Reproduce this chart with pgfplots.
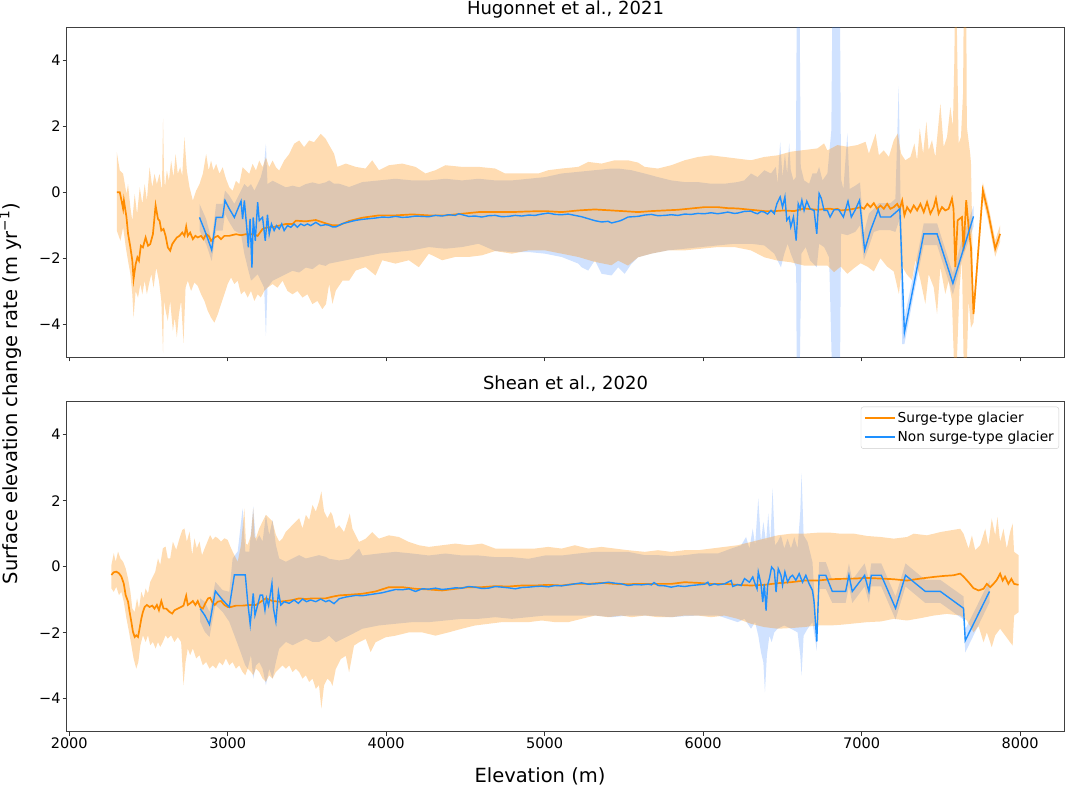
\documentclass[border=0pt]{standalone}
\usepackage{fontspec}
\setmainfont{DejaVu Sans}
\usepackage{pgfplots}
\pgfplotsset{compat=1.18}
\usepgfplotslibrary{fillbetween}
\definecolor{dorange}{RGB}{255,140,0}
\definecolor{dblue}{RGB}{30,144,255}
\definecolor{bandblue}{RGB}{40,122,255}
\pgfplotsset{
  panel/.style={
    width=997.6pt, height=330pt, scale only axis,
    xmin=1984, xmax=8279, ymin=-5, ymax=5,
    xtick={2000,3000,4000,5000,6000,7000,8000}, ytick={-4,-2,0,2,4},
    yticklabels={−4,−2,0,2,4},
    xtick pos=bottom, ytick pos=left,
    tick align=outside, major tick length=4pt,
    tick style={black!80, line width=0.9pt},
    axis line style={black!75, line width=0.9pt},
    ticklabel style={font=\fontsize{14.5}{17}\selectfont},
    yticklabel style={inner sep=2pt},
    xticklabel style={inner sep=2pt},
  },
  oline/.style={dorange, line width=1.7pt},
  bline/.style={dblue, line width=1.4pt},
  ofill/.style={fill=dorange, fill opacity=0.3, draw=none, forget plot},
  bfill/.style={fill=bandblue, fill opacity=0.22, draw=none, forget plot},
}
\begin{document}
\begin{tikzpicture}
% ================= TOP PANEL =================
\begin{axis}[panel, at={(66.7pt,429.7pt)}, anchor=south west, xticklabel=\empty]
\addplot[draw=none, name path=otu, forget plot] coordinates {
(2300,1.22)(2319,0.66)(2340,0.56)(2361,-0.05)(2371,0.25)(2386,-0.46)(2398,-0.86)(2413,-0.05)(2428,-0.66)(2445,0.15)(2461,-0.35)(2476,0.25)(2490,-0.25)(2507,0.76)(2524,0.15)(2538,0.56)(2553,0.25)(2570,0.56)(2585,0.05)(2592,2.23)(2598,0.6)(2604,0.15)(2616,0.66)(2629,0.35)(2643,0.96)(2658,0.46)(2671,1.16)(2685,0.56)(2700,0.76)(2713,0.51)(2727,1.67)(2742,0.66)(2759,0.15)(2780,-0.25)(2801,0.05)(2822,0.25)(2843,0.56)(2864,1.16)(2880,0.66)(2895,0.96)(2910,0.66)(2927,0.86)(2948,0.56)(2968,0.76)(2989,0.41)(3010,0.15)(3031,0.05)(3052,0.35)(3073,0.25)(3094,0.76)(3115,0.66)(3136,0.56)(3157,0.86)(3178,0.66)(3199,0.96)(3220,0.76)(3241,1.06)(3262,0.76)(3283,0.96)(3304,0.76)(3325,0.66)(3356,0.96)(3388,1.16)(3419,1.47)(3451,1.57)(3482,1.37)(3514,1.57)(3545,1.52)(3587,1.77)(3618,1.62)(3640,1.43)(3671,1.17)(3692,0.77)(3745,0.87)(3808,0.77)(3870,0.72)(3912,0.97)(3954,0.67)(4017,0.82)(4101,0.87)(4185,0.77)(4248,0.57)(4311,0.67)(4374,0.82)(4478,0.77)(4583,0.77)(4688,0.72)(4751,0.57)(4856,0.57)(4960,0.57)(5023,0.67)(5107,0.72)(5212,0.77)(5275,0.92)(5359,0.87)(5443,0.97)(5526,0.97)(5589,0.9)(5631,0.77)(5715,0.72)(5799,0.82)(5883,0.97)(5967,1.07)(6050,1.12)(6134,1.07)(6218,1.02)(6302,0.97)(6386,1.07)(6470,1.12)(6553,1.23)(6637,1.28)(6721,1.33)(6763,1.48)(6784,1.27)(6847,1.43)(6910,1.38)(6973,1.43)(7025,1.53)(7046,1.17)(7088,1.78)(7109,1.12)(7140,1.27)(7172,1.07)(7203,1.58)(7228,1.78)(7249,1.17)(7276,0.97)(7308,1.07)(7333,1.48)(7350,0.97)(7367,1.93)(7388,1.17)(7409,2.14)(7423,1.27)(7444,1.58)(7465,1.07)(7497,2.69)(7518,1.37)(7539,1.68)(7560,2.59)(7576,1.98)(7585,4.0)(7590,6)(7598,6)(7612,1.47)(7627,1.68)(7640,3)(7645,6)(7660,6)(7664,1.98)(7685,1.17)(7690,0.9)(7706,-3.4)(7765,0.3)(7800,-0.4)(7843,-1.45)(7874,-1.0)
};
\addplot[draw=none, name path=otl, forget plot] coordinates {
(2300,-1.16)(2323,-1.47)(2340,-1.06)(2357,-1.67)(2371,-2.08)(2386,-2.48)(2398,-3.09)(2406,-3.80)(2419,-2.99)(2434,-3.19)(2449,-2.78)(2461,-3.09)(2476,-2.68)(2490,-3.09)(2503,-2.78)(2518,-2.48)(2532,-2.89)(2549,-2.28)(2566,-2.68)(2581,-3.29)(2592,-4.86)(2598,-3.3)(2608,-3.59)(2622,-3.90)(2637,-3.29)(2654,-4.20)(2666,-3.80)(2679,-4.40)(2692,-3.70)(2706,-3.29)(2721,-4.56)(2734,-2.89)(2748,-2.68)(2769,-2.99)(2790,-2.73)(2811,-2.84)(2832,-3.09)(2853,-3.29)(2874,-3.59)(2895,-3.80)(2916,-3.95)(2937,-3.70)(2958,-3.39)(2979,-3.09)(3000,-2.78)(3021,-2.58)(3042,-2.78)(3063,-2.68)(3084,-3.09)(3105,-2.99)(3126,-3.19)(3147,-2.99)(3168,-3.29)(3189,-3.09)(3209,-3.19)(3230,-2.99)(3251,-2.89)(3283,-2.78)(3314,-2.89)(3346,-2.68)(3377,-2.99)(3409,-3.09)(3440,-2.99)(3472,-3.19)(3503,-3.09)(3534,-3.39)(3566,-3.29)(3597,-3.54)(3620,-3.39)(3640,-2.78)(3661,-3.38)(3682,-2.98)(3724,-2.68)(3766,-2.68)(3808,-2.37)(3870,-2.27)(3933,-2.52)(3975,-2.06)(4059,-2.16)(4143,-2.06)(4206,-2.27)(4269,-1.86)(4353,-2.06)(4436,-1.96)(4520,-1.96)(4604,-1.91)(4688,-1.78)(4793,-1.86)(4898,-1.76)(5002,-1.76)(5107,-1.86)(5212,-1.96)(5317,-2.11)(5422,-2.21)(5464,-2.07)(5526,-2.22)(5589,-1.97)(5673,-1.86)(5778,-1.76)(5883,-1.76)(5987,-1.71)(6092,-1.66)(6197,-1.66)(6302,-1.76)(6386,-1.97)(6470,-2.07)(6553,-2.12)(6637,-2.22)(6721,-2.22)(6784,-2.22)(6826,-2.42)(6868,-2.25)(6910,-2.47)(6952,-2.3)(6994,-2.15)(7036,-2.25)(7077,-2.4)(7119,-2.0)(7161,-2.25)(7203,-2.4)(7235,-3.08)(7256,-2.25)(7287,-2.5)(7318,-2.66)(7340,-2.05)(7371,-2.66)(7402,-3.38)(7423,-2.48)(7455,-2.88)(7476,-3.69)(7497,-2.27)(7528,-3.08)(7549,-2.68)(7570,-3.28)(7585,-5.5)(7598,-5.5)(7618,-2.88)(7633,-2.07)(7645,-5.5)(7662,-5.5)(7675,-3.28)(7690,-4.1)(7706,-3.95)(7765,-0.2)(7800,-0.9)(7843,-1.95)(7874,-1.5)
};
\addplot[draw=none, name path=btu, forget plot] coordinates {
(2822,-0.35)(2864,-0.81)(2899,-1.47)(2927,-0.35)(2968,-0.35)(2983,0.05)(3010,-0.1)(3042,-0.35)(3084,0.05)(3105,0.25)(3126,0.15)(3147,0.25)(3168,0.05)(3189,0.25)(3209,0.46)(3230,0.86)(3241,1.47)(3251,0.25)(3283,0.35)(3325,0.25)(3367,0.15)(3409,0.2)(3451,0.15)(3493,0.25)(3535,0.3)(3576,0.25)(3618,0.3)(3640,0.36)(3671,0.26)(3703,0.26)(3766,0.16)(3850,0.31)(3954,0.36)(4059,0.41)(4164,0.36)(4269,0.36)(4374,0.41)(4478,0.36)(4583,0.41)(4688,0.36)(4793,0.36)(4898,0.41)(5002,0.46)(5107,0.57)(5212,0.62)(5317,0.67)(5422,0.72)(5464,0.72)(5547,0.67)(5631,0.57)(5715,0.46)(5799,0.36)(5883,0.31)(5967,0.31)(6050,0.26)(6134,0.26)(6218,0.31)(6260,0.36)(6302,0.57)(6344,0.46)(6386,0.67)(6428,0.57)(6459,0.77)(6470,0.26)(6486,1.53)(6501,0.46)(6516,1.17)(6530,0.57)(6543,1.48)(6553,0.67)(6570,0.36)(6585,0.46)(6591,6)(6608,6)(6616,0.77)(6637,0.36)(6669,0.26)(6690,0.57)(6717,0.57)(6732,0.77)(6753,0.36)(6784,0.57)(6809,1.88)(6816,6)(6863,6)(6870,0.4)(6885,0.1)(6910,1.79)(6925,0.1)(6960,0.2)(6990,0.3)(7014,-1.25)(7046,-0.64)(7077,-0.5)(7109,-0.33)(7182,-0.33)(7213,-0.2)(7234,3.21)(7245,0.0)(7256,-1.5)(7266,-3.9)(7329,-2.45)(7392,-0.94)(7476,-0.94)(7576,-2.45)(7633,-1.45)(7706,-0.42)
};
\addplot[draw=none, name path=btl, forget plot] coordinates {
(2822,-1.16)(2864,-1.57)(2899,-2.08)(2927,-1.16)(2968,-1.16)(2983,-0.66)(3010,-0.91)(3042,-1.16)(3084,-1.27)(3105,-1.87)(3126,-2.28)(3147,-2.68)(3168,-2.58)(3189,-2.48)(3209,-2.68)(3230,-2.89)(3241,-4.35)(3251,-2.89)(3283,-2.68)(3325,-2.58)(3367,-2.48)(3409,-2.38)(3451,-2.43)(3493,-2.28)(3535,-2.33)(3576,-2.18)(3618,-2.23)(3640,-2.16)(3745,-2.06)(3850,-1.96)(3954,-1.86)(4059,-1.81)(4164,-1.76)(4269,-1.66)(4374,-1.71)(4478,-1.66)(4583,-1.56)(4688,-1.78)(4793,-1.81)(4898,-1.81)(5002,-1.86)(5107,-1.96)(5212,-2.16)(5233,-2.27)(5275,-2.37)(5317,-2.06)(5359,-2.47)(5422,-2.52)(5464,-2.27)(5505,-2.47)(5547,-2.17)(5589,-1.97)(5673,-1.86)(5778,-1.76)(5883,-1.71)(5987,-1.66)(6092,-1.61)(6197,-1.56)(6302,-1.56)(6386,-1.61)(6449,-1.86)(6470,-2.07)(6491,-2.27)(6512,-1.86)(6533,-1.56)(6553,-1.86)(6570,-2.07)(6587,-2.27)(6591,-6)(6608,-6)(6620,-1.86)(6647,-1.66)(6675,-2.07)(6717,-2.27)(6732,-1.56)(6763,-1.66)(6795,-1.97)(6816,-6)(6863,-6)(6870,-1.25)(6910,-1.3)(6960,-1.2)(6990,-1.0)(7014,-2.06)(7046,-1.65)(7077,-1.2)(7109,-1.15)(7182,-1.15)(7213,-1.2)(7241,-0.8)(7256,-4.6)(7270,-4.6)(7329,-3.1)(7392,-1.6)(7476,-1.6)(7576,-3.1)(7633,-2.05)(7706,-1.05)
};
\addplot[bfill] fill between[of=btu and btl];
\addplot[ofill] fill between[of=otu and otl];
\addplot[oline] coordinates {
(2300,0.0)(2319,0.0)(2330,-0.25)(2340,-0.5)(2345,-0.25)(2361,-0.75)(2371,-1.25)(2386,-1.67)(2398,-2.07)(2406,-2.63)(2419,-2.18)(2430,-1.97)(2440,-2.07)(2452,-1.62)(2465,-1.67)(2482,-1.37)(2497,-1.62)(2511,-1.57)(2528,-1.27)(2545,-0.4)(2560,-0.81)(2570,-0.86)(2581,-1.16)(2595,-1.11)(2608,-1.32)(2622,-1.67)(2637,-1.77)(2650,-1.57)(2664,-1.47)(2679,-1.37)(2696,-1.32)(2713,-1.22)(2727,-1.32)(2738,-1.04)(2748,-1.32)(2763,-1.22)(2780,-1.42)(2796,-1.32)(2811,-1.37)(2832,-1.32)(2847,-1.42)(2864,-1.27)(2880,-1.32)(2895,-1.47)(2916,-1.37)(2937,-1.32)(2958,-1.42)(2979,-1.32)(3010,-1.32)(3052,-1.27)(3084,-1.3)(3115,-1.27)(3157,-1.27)(3189,-1.32)(3220,-1.11)(3252,-1.06)(3283,-1.06)(3325,-1.01)(3367,-0.96)(3409,-0.96)(3430,-0.86)(3493,-0.88)(3556,-0.84)(3618,-0.94)(3660,-1.0)(3703,-1.0)(3766,-0.87)(3850,-0.77)(3954,-0.70)(4059,-0.70)(4164,-0.67)(4269,-0.70)(4374,-0.70)(4478,-0.65)(4583,-0.60)(4688,-0.60)(4793,-0.60)(4898,-0.58)(5002,-0.57)(5107,-0.60)(5212,-0.55)(5317,-0.52)(5422,-0.55)(5526,-0.58)(5589,-0.6)(5673,-0.57)(5757,-0.55)(5841,-0.53)(5925,-0.49)(6008,-0.45)(6092,-0.45)(6155,-0.48)(6218,-0.49)(6302,-0.53)(6386,-0.57)(6449,-0.57)(6512,-0.55)(6574,-0.57)(6637,-0.49)(6721,-0.53)(6784,-0.5)(6805,-0.5)(6826,-0.52)(6847,-0.5)(6868,-0.55)(6910,-0.53)(6952,-0.5)(6994,-0.45)(7015,-0.5)(7036,-0.35)(7056,-0.45)(7077,-0.33)(7098,-0.5)(7119,-0.4)(7140,-0.5)(7161,-0.35)(7182,-0.5)(7203,-0.45)(7224,-0.35)(7241,-0.5)(7256,-0.25)(7270,-0.7)(7287,-0.45)(7308,-0.6)(7329,-0.4)(7350,-0.55)(7371,-0.35)(7392,-0.6)(7413,-0.3)(7434,-0.65)(7455,-0.45)(7469,-0.19)(7486,-0.65)(7507,-0.45)(7528,-0.55)(7549,-0.5)(7570,-0.19)(7580,-0.5)(7591,-2.27)(7606,-0.85)(7633,-0.75)(7643,-1.77)(7660,-0.24)(7675,-1.05)(7690,-1.67)(7706,-3.69)(7765,0.06)(7800,-0.65)(7843,-1.71)(7874,-1.26)
};
\addplot[bline] coordinates {
(2822,-0.76)(2864,-1.27)(2899,-1.75)(2927,-0.76)(2968,-0.76)(2983,-0.25)(3010,-0.5)(3042,-0.76)(3084,-0.27)(3094,-0.81)(3105,-0.25)(3120,-1.06)(3130,-1.67)(3141,-0.81)(3153,-2.28)(3161,-0.76)(3174,-1.47)(3189,-0.3)(3199,-0.86)(3220,-0.76)(3237,-1.47)(3251,-0.68)(3262,-1.27)(3276,-0.96)(3293,-1.16)(3308,-1.01)(3325,-1.11)(3341,-0.96)(3356,-1.16)(3377,-1.01)(3398,-1.06)(3419,-0.96)(3440,-1.06)(3461,-0.96)(3482,-1.01)(3503,-0.96)(3524,-1.01)(3556,-0.91)(3587,-1.01)(3618,-0.98)(3640,-1.0)(3661,-1.05)(3682,-1.05)(3724,-0.95)(3766,-0.9)(3808,-0.85)(3850,-0.82)(3891,-0.80)(3933,-0.78)(3975,-0.75)(4017,-0.76)(4059,-0.73)(4101,-0.76)(4143,-0.75)(4185,-0.72)(4227,-0.73)(4269,-0.74)(4311,-0.70)(4353,-0.72)(4394,-0.68)(4436,-0.7)(4457,-0.65)(4520,-0.73)(4562,-0.72)(4604,-0.75)(4646,-0.71)(4688,-0.70)(4730,-0.74)(4772,-0.73)(4814,-0.70)(4856,-0.72)(4898,-0.69)(4939,-0.70)(4981,-0.66)(5023,-0.63)(5065,-0.67)(5107,-0.68)(5149,-0.66)(5191,-0.70)(5233,-0.74)(5275,-0.80)(5317,-0.86)(5359,-0.90)(5401,-0.88)(5422,-0.93)(5464,-0.88)(5484,-0.85)(5526,-0.75)(5589,-0.73)(5631,-0.69)(5673,-0.67)(5715,-0.71)(5757,-0.7)(5799,-0.68)(5841,-0.7)(5883,-0.66)(5925,-0.67)(5967,-0.64)(6008,-0.65)(6050,-0.62)(6092,-0.65)(6134,-0.62)(6155,-0.6)(6197,-0.64)(6218,-0.63)(6260,-0.58)(6302,-0.57)(6323,-0.62)(6344,-0.65)(6365,-0.58)(6386,-0.6)(6407,-0.66)(6428,-0.55)(6449,-0.65)(6465,-0.35)(6486,-0.14)(6501,-0.45)(6516,-0.14)(6528,-0.85)(6543,-0.75)(6553,-1.05)(6570,-0.75)(6587,-1.46)(6600,-0.35)(6612,-0.5)(6623,-0.24)(6637,-0.55)(6654,-0.27)(6675,-0.5)(6700,-0.55)(6717,-1.26)(6732,-0.04)(6746,-0.19)(6763,-0.55)(6784,-0.55)(6801,-0.75)(6826,-0.53)(6856,-0.53)(6885,-0.75)(6914,-0.27)(6935,-0.75)(6960,-0.53)(6987,-0.24)(7019,-1.75)(7056,-1.16)(7105,-0.53)(7119,-0.75)(7182,-0.75)(7241,-0.5)(7270,-4.25)(7392,-1.26)(7476,-1.26)(7576,-2.76)(7706,-0.73)
};
\end{axis}
% ================= BOTTOM PANEL =================
\begin{axis}[panel, at={(66.7pt,55.3pt)}, anchor=south west,
  xticklabels={2000,3000,4000,5000,6000,7000,8000},
  legend style={at={(0.9947,0.985)}, anchor=north east, draw=black!20,
    rounded corners=2.5pt, fill=white, fill opacity=0.8, text opacity=1,
    font=\fontsize{13.7}{16}\selectfont, inner xsep=3pt, inner ysep=3.5pt,
    row sep=3pt},
  legend cell align=left,
  legend image code/.code={\draw[#1, line width=1.6pt] (0pt,0pt) -- (30pt,0pt);},
]
\addplot[draw=none, name path=obu, forget plot] coordinates {
(2266,0.05)(2281,0.41)(2293,0.15)(2308,0.46)(2323,0.25)(2340,0.15)(2356,-0.05)(2371,-0.35)(2386,-0.76)(2398,-1.27)(2413,-1.37)(2428,-0.96)(2440,-1.27)(2455,-0.76)(2469,-0.96)(2482,-0.66)(2497,-0.81)(2511,-0.46)(2528,-0.3)(2543,-0.15)(2560,0.25)(2574,0.05)(2591,0.56)(2608,0.61)(2622,0.25)(2637,0.25)(2654,0.76)(2675,0.51)(2696,0.86)(2713,1.11)(2727,1.16)(2742,0.76)(2759,1.06)(2776,0.35)(2790,0.86)(2805,0.56)(2822,0.76)(2838,0.35)(2855,0.56)(2872,0.76)(2889,0.96)(2905,0.81)(2922,0.91)(2939,0.86)(2958,0.76)(2979,0.86)(3000,0.81)(3021,0.56)(3042,0.35)(3063,0.15)(3084,0.66)(3105,1.77)(3115,0.7)(3126,0.66)(3147,0.96)(3161,1.77)(3170,0.9)(3178,0.86)(3199,1.16)(3220,1.37)(3241,1.57)(3262,1.47)(3283,1.37)(3304,0.96)(3325,0.76)(3346,0.86)(3367,1.06)(3388,1.16)(3409,1.27)(3430,1.37)(3451,1.47)(3472,1.16)(3493,1.57)(3514,1.42)(3535,1.87)(3556,1.67)(3576,1.97)(3591,2.28)(3608,1.67)(3629,1.47)(3650,1.66)(3661,1.56)(3682,1.15)(3703,1.26)(3734,1.05)(3755,1.36)(3770,1.61)(3787,1.15)(3808,0.95)(3829,0.75)(3871,0.85)(3912,1.05)(3954,0.85)(4017,0.95)(4080,0.9)(4143,0.75)(4206,0.65)(4269,0.6)(4353,0.65)(4436,0.7)(4520,0.65)(4604,0.7)(4688,0.55)(4772,0.55)(4856,0.55)(4939,0.55)(5023,0.6)(5107,0.55)(5191,0.65)(5275,0.55)(5359,0.6)(5443,0.55)(5526,0.5)(5632,0.45)(5715,0.5)(5799,0.45)(5883,0.5)(5967,0.5)(6051,0.55)(6135,0.6)(6218,0.65)(6302,0.75)(6386,0.85)(6470,0.95)(6554,1.0)(6638,1.0)(6722,1.03)(6805,1.03)(6868,1.0)(6952,1.0)(7036,0.93)(7120,0.9)(7203,0.85)(7287,0.9)(7329,1.0)(7413,0.95)(7497,1.05)(7560,1.1)(7622,1.15)(7643,1.0)(7675,0.55)(7696,0.95)(7717,0.5)(7748,0.65)(7780,1.15)(7800,0.65)(7821,1.46)(7843,0.95)(7857,1.51)(7874,0.75)(7895,1.15)(7916,0.55)(7937,1.05)(7953,1.31)(7962,0.45)(7990,0.35)
};
\addplot[draw=none, name path=obl, forget plot] coordinates {
(2266,-0.66)(2281,-0.76)(2297,-0.61)(2314,-0.86)(2329,-0.76)(2344,-1.06)(2361,-1.57)(2377,-1.97)(2392,-2.38)(2406,-2.78)(2423,-3.09)(2436,-2.89)(2449,-2.38)(2465,-2.08)(2482,-2.28)(2497,-2.08)(2511,-2.38)(2528,-2.28)(2545,-2.48)(2560,-2.28)(2574,-2.43)(2591,-2.28)(2608,-2.08)(2622,-2.18)(2643,-2.08)(2664,-2.28)(2685,-2.13)(2706,-2.28)(2721,-3.59)(2734,-2.89)(2748,-2.48)(2763,-2.68)(2780,-2.48)(2801,-2.78)(2822,-2.68)(2843,-2.99)(2864,-2.89)(2885,-3.09)(2905,-2.99)(2926,-3.09)(2947,-2.89)(2968,-2.99)(2989,-2.78)(3010,-2.99)(3031,-2.89)(3052,-3.09)(3073,-2.99)(3094,-3.19)(3111,-3.29)(3126,-3.09)(3147,-3.19)(3161,-3.29)(3178,-3.09)(3199,-3.19)(3220,-3.39)(3241,-3.49)(3262,-3.29)(3283,-3.39)(3304,-3.19)(3325,-3.09)(3346,-2.99)(3367,-3.09)(3388,-2.99)(3409,-3.19)(3430,-3.09)(3451,-3.19)(3472,-3.39)(3493,-3.29)(3514,-3.49)(3535,-3.39)(3556,-3.70)(3576,-3.59)(3591,-4.30)(3608,-3.59)(3629,-3.39)(3650,-3.49)(3661,-3.61)(3682,-3.1)(3713,-2.8)(3745,-2.7)(3766,-3.2)(3797,-2.39)(3829,-2.29)(3871,-2.19)(3902,-2.59)(3933,-2.29)(3996,-2.14)(4059,-2.09)(4143,-1.99)(4227,-1.99)(4311,-2.09)(4394,-1.99)(4478,-1.88)(4562,-1.78)(4646,-1.73)(4730,-1.68)(4814,-1.68)(4898,-1.68)(4981,-1.63)(5065,-1.68)(5149,-1.68)(5233,-1.58)(5317,-1.48)(5401,-1.53)(5484,-1.48)(5548,-1.53)(5632,-1.48)(5715,-1.53)(5799,-1.53)(5883,-1.48)(5967,-1.48)(6051,-1.53)(6135,-1.48)(6218,-1.58)(6302,-1.73)(6386,-1.83)(6470,-1.88)(6554,-1.86)(6638,-1.83)(6722,-1.78)(6805,-1.78)(6868,-1.76)(6952,-1.72)(7036,-1.68)(7120,-1.66)(7203,-1.58)(7287,-1.63)(7371,-1.56)(7455,-1.48)(7538,-1.43)(7622,-1.48)(7664,-1.63)(7706,-1.99)(7738,-1.8)(7769,-2.29)(7790,-1.99)(7821,-2.44)(7843,-2.08)(7874,-1.88)(7905,-2.08)(7937,-2.29)(7953,-2.39)(7962,-1.48)(7990,-1.38)
};
\addplot[draw=none, name path=bbu, forget plot] coordinates {
(2826,-0.96)(2855,-1.06)(2885,-1.37)(2922,-0.46)(2968,-0.71)(3010,-0.76)(3031,0.25)(3063,0.46)(3094,1.77)(3111,0.46)(3136,0.46)(3161,1.82)(3178,0.76)(3199,0.96)(3220,0.76)(3241,1.57)(3262,0.96)(3283,1.42)(3304,0.66)(3325,0.25)(3367,0.15)(3409,0.25)(3451,0.35)(3493,0.25)(3535,0.3)(3576,0.35)(3618,0.3)(3640,0.24)(3703,0.19)(3766,0.24)(3829,0.55)(3850,0.34)(3954,0.4)(4059,0.45)(4164,0.4)(4269,0.34)(4374,0.4)(4478,0.34)(4583,0.34)(4688,0.29)(4793,0.29)(4898,0.24)(5002,0.34)(5107,0.34)(5212,0.4)(5317,0.45)(5422,0.45)(5526,0.45)(5632,0.35)(5715,0.35)(5799,0.32)(5883,0.35)(5967,0.4)(6093,0.4)(6177,0.55)(6240,0.65)(6271,0.9)(6292,0.55)(6313,1.15)(6328,0.65)(6348,2.07)(6365,0.75)(6380,1.36)(6397,0.75)(6411,1.61)(6424,0.75)(6438,2.37)(6453,0.65)(6470,0.75)(6491,0.95)(6512,0.55)(6533,0.85)(6554,0.55)(6575,0.9)(6596,0.55)(6613,1.66)(6621,2.83)(6634,0.95)(6659,0.75)(6690,0.14)(6717,-1.99)(6732,0.14)(6774,0.14)(6815,-0.4)(6899,-0.4)(6920,0.1)(6941,-0.4)(7019,0.1)(7046,-0.4)(7061,0.1)(7124,0.1)(7214,-0.9)(7277,0.1)(7402,-0.4)(7497,-0.4)(7643,-0.9)(7654,-1.9)(7807,-0.42)
};
\addplot[draw=none, name path=bbl, forget plot] coordinates {
(2826,-1.67)(2855,-1.97)(2885,-2.13)(2922,-1.16)(2968,-1.37)(3010,-1.67)(3042,-2.08)(3073,-2.48)(3111,-2.99)(3126,-3.09)(3147,-2.68)(3161,-3.39)(3178,-2.99)(3199,-2.89)(3220,-3.09)(3241,-3.59)(3262,-3.09)(3283,-3.39)(3304,-2.89)(3325,-2.48)(3367,-2.28)(3409,-2.38)(3451,-2.28)(3493,-2.18)(3535,-2.28)(3576,-2.28)(3618,-2.18)(3640,-2.09)(3682,-2.29)(3724,-2.19)(3766,-2.09)(3850,-1.88)(3954,-1.78)(4059,-1.73)(4164,-1.68)(4269,-1.68)(4374,-1.63)(4478,-1.58)(4583,-1.58)(4688,-1.53)(4793,-1.58)(4898,-1.53)(5002,-1.48)(5107,-1.48)(5212,-1.48)(5317,-1.48)(5422,-1.53)(5526,-1.48)(5632,-1.48)(5715,-1.5)(5799,-1.53)(5883,-1.5)(5967,-1.48)(6093,-1.48)(6156,-1.58)(6218,-1.68)(6261,-1.58)(6302,-1.88)(6328,-1.68)(6348,-2.09)(6365,-2.59)(6380,-2.9)(6390,-3.81)(6402,-2.7)(6418,-2.09)(6432,-2.29)(6449,-1.99)(6470,-1.88)(6512,-1.78)(6554,-1.88)(6596,-1.99)(6613,-2.69)(6621,-3.3)(6634,-2.09)(6659,-1.88)(6690,-1.68)(6717,-2.54)(6732,-0.67)(6774,-0.67)(6815,-1.1)(6899,-1.1)(6920,-0.6)(6941,-1.1)(7019,-0.6)(7046,-1.1)(7061,-0.6)(7124,-0.6)(7214,-1.6)(7277,-0.6)(7402,-1.1)(7497,-1.1)(7643,-1.6)(7654,-2.6)(7807,-1.08)
};
\addplot[bfill] fill between[of=bbu and bbl];
\addplot[ofill] fill between[of=obu and obl];
\addplot[oline] coordinates {
(2266,-0.25)(2281,-0.17)(2297,-0.15)(2314,-0.2)(2329,-0.3)(2344,-0.51)(2356,-0.86)(2371,-1.06)(2381,-1.37)(2392,-1.67)(2402,-1.97)(2413,-2.13)(2423,-2.08)(2434,-2.13)(2444,-1.87)(2455,-1.57)(2465,-1.37)(2476,-1.22)(2490,-1.16)(2507,-1.22)(2524,-1.18)(2538,-1.27)(2553,-1.16)(2566,-1.32)(2581,-1.04)(2595,-1.27)(2612,-1.27)(2633,-1.37)(2650,-1.42)(2664,-1.32)(2685,-1.27)(2706,-1.22)(2721,-1.18)(2738,-0.88)(2748,-1.16)(2763,-1.11)(2780,-1.04)(2796,-1.16)(2811,-1.04)(2826,-1.22)(2843,-1.27)(2859,-1.11)(2876,-0.96)(2889,-0.94)(2901,-1.06)(2918,-1.16)(2937,-1.06)(2958,-1.04)(2979,-1.16)(3000,-1.22)(3021,-1.22)(3052,-1.18)(3094,-1.18)(3136,-1.16)(3178,-1.16)(3209,-1.06)(3241,-0.96)(3283,-1.04)(3325,-1.06)(3367,-1.04)(3409,-1.01)(3451,-0.96)(3493,-0.98)(3535,-0.96)(3576,-0.96)(3618,-0.96)(3660,-0.91)(3703,-0.87)(3766,-0.85)(3850,-0.82)(3933,-0.75)(4017,-0.62)(4101,-0.62)(4185,-0.67)(4269,-0.69)(4353,-0.72)(4436,-0.67)(4520,-0.62)(4604,-0.62)(4688,-0.59)(4772,-0.60)(4856,-0.57)(4939,-0.57)(5023,-0.55)(5107,-0.57)(5191,-0.52)(5275,-0.52)(5359,-0.49)(5443,-0.52)(5526,-0.53)(5632,-0.52)(5715,-0.52)(5799,-0.52)(5883,-0.47)(5967,-0.49)(6051,-0.52)(6135,-0.52)(6218,-0.55)(6302,-0.57)(6386,-0.55)(6470,-0.5)(6554,-0.47)(6638,-0.42)(6722,-0.42)(6805,-0.38)(6868,-0.37)(6952,-0.36)(7036,-0.34)(7120,-0.36)(7203,-0.38)(7287,-0.42)(7371,-0.36)(7455,-0.31)(7518,-0.28)(7580,-0.26)(7622,-0.21)(7643,-0.3)(7675,-0.47)(7706,-0.65)(7738,-0.72)(7769,-0.67)(7790,-0.52)(7811,-0.62)(7832,-0.52)(7853,-0.4)(7874,-0.21)(7890,-0.42)(7905,-0.3)(7926,-0.52)(7945,-0.37)(7962,-0.52)(7990,-0.55)
};
\addlegendentry{Surge-type glacier}
\addplot[bline] coordinates {
(2826,-1.27)(2855,-1.47)(2885,-1.75)(2922,-0.74)(2968,-1.01)(3010,-1.22)(3042,-0.25)(3111,-0.25)(3126,-1.06)(3142,-1.75)(3161,-0.81)(3172,-1.47)(3189,-1.16)(3205,-0.86)(3220,-0.86)(3235,-1.32)(3245,-0.96)(3258,-1.18)(3279,-0.51)(3289,-1.27)(3304,-1.67)(3320,-0.76)(3335,-1.16)(3356,-1.06)(3388,-1.11)(3419,-1.01)(3446,-1.11)(3472,-0.98)(3497,-1.06)(3524,-1.01)(3556,-1.06)(3587,-0.98)(3618,-1.06)(3640,-1.02)(3671,-1.12)(3703,-0.97)(3745,-0.92)(3808,-0.87)(3850,-0.88)(3891,-0.85)(3933,-0.82)(3975,-0.79)(4017,-0.74)(4059,-0.69)(4101,-0.7)(4143,-0.67)(4185,-0.75)(4227,-0.67)(4269,-0.68)(4311,-0.65)(4353,-0.69)(4394,-0.67)(4436,-0.64)(4478,-0.65)(4520,-0.6)(4562,-0.62)(4604,-0.66)(4646,-0.65)(4688,-0.6)(4730,-0.62)(4772,-0.64)(4814,-0.67)(4856,-0.63)(4898,-0.62)(4939,-0.6)(4981,-0.59)(5023,-0.61)(5065,-0.57)(5107,-0.58)(5149,-0.55)(5191,-0.52)(5233,-0.49)(5275,-0.53)(5317,-0.52)(5359,-0.5)(5401,-0.47)(5443,-0.5)(5484,-0.52)(5527,-0.57)(5569,-0.54)(5611,-0.55)(5653,-0.53)(5674,-0.55)(5690,-0.48)(5716,-0.57)(5758,-0.58)(5799,-0.62)(5841,-0.58)(5883,-0.6)(5925,-0.57)(5967,-0.55)(6009,-0.53)(6030,-0.47)(6040,-0.57)(6072,-0.52)(6093,-0.55)(6135,-0.52)(6177,-0.42)(6187,-0.6)(6218,-0.54)(6240,-0.57)(6261,-0.36)(6292,-0.47)(6313,-0.31)(6328,-0.52)(6340,-0.67)(6348,-0.16)(6365,-0.52)(6376,-1.07)(6386,-0.52)(6397,-1.33)(6407,-0.56)(6418,-0.36)(6432,-0.01)(6449,-0.11)(6460,-0.77)(6474,-0.06)(6491,-0.26)(6501,-0.56)(6516,-0.16)(6533,-0.46)(6550,-0.31)(6564,-0.26)(6585,-0.41)(6606,-0.21)(6627,-0.47)(6648,-0.26)(6669,-0.52)(6690,-0.72)(6700,-1.07)(6717,-2.27)(6732,-0.26)(6774,-0.26)(6815,-0.75)(6899,-0.75)(6920,-0.26)(6941,-0.75)(7019,-0.26)(7046,-0.75)(7061,-0.26)(7124,-0.26)(7214,-1.26)(7277,-0.26)(7402,-0.75)(7497,-0.75)(7643,-1.26)(7654,-2.24)(7807,-0.75)
};
\addlegendentry{Non surge-type glacier}
\end{axis}
% ================= TEXT =================
\node[anchor=base, font=\fontsize{18}{21}\selectfont] at (565.5pt,772pt) {Hugonnet et al., 2021};
\node[anchor=base, font=\fontsize{18}{21}\selectfont] at (565.5pt,397.3pt) {Shean et al., 2020};
\node[anchor=base, font=\fontsize{19.5}{23}\selectfont] at (540pt,5pt) {Elevation (m)};
\node[anchor=base, rotate=90, font=\fontsize{19.5}{23}\selectfont] at (17pt,393.5pt) {Surface elevation change rate (m yr\textsuperscript{−1})};
\pgfresetboundingbox
\path[use as bounding box] (0,0) rectangle (1065pt,787pt);
\end{tikzpicture}
\end{document}
